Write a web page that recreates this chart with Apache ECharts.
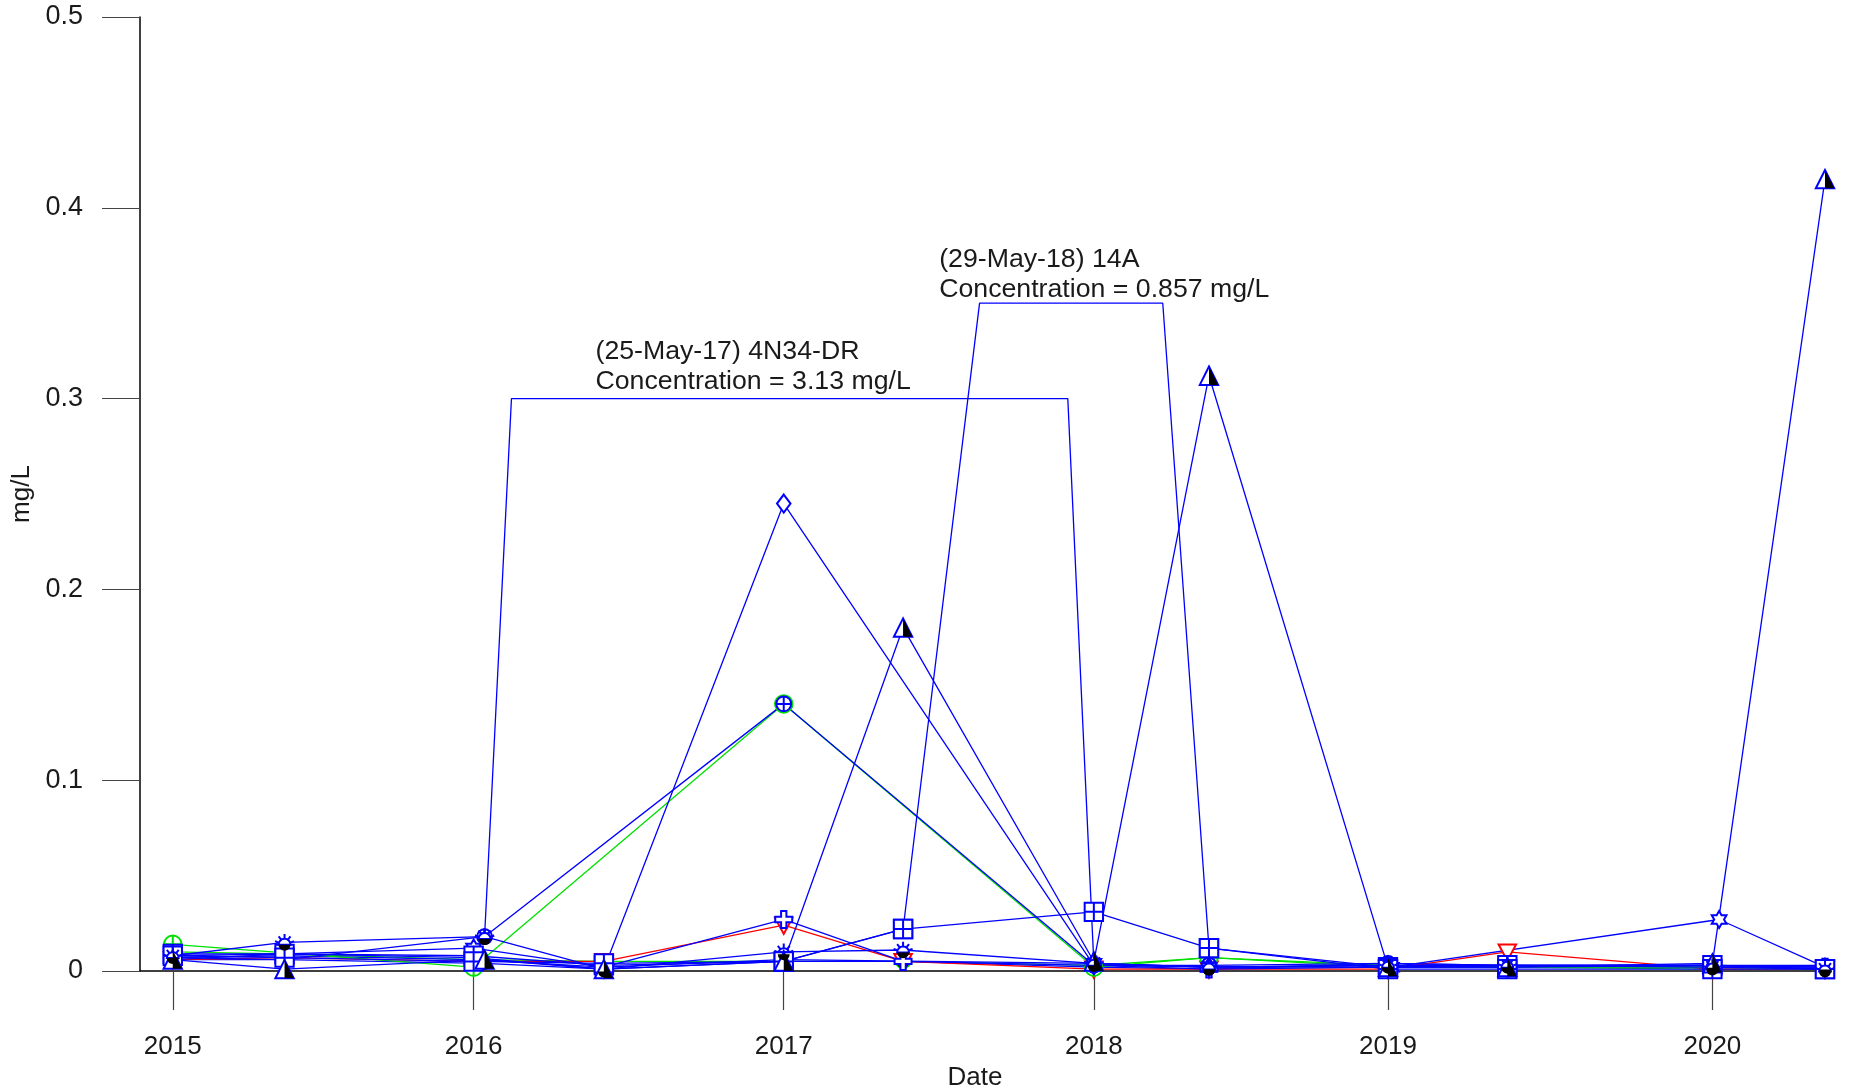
<!DOCTYPE html>
<html>
<head>
<meta charset="utf-8">
<script src="https://cdn.jsdelivr.net/npm/echarts@6/dist/echarts.min.js"></script>
<style>
html,body{margin:0;padding:0;background:#fff;}
#chart{width:1853px;height:1091px;}
</style>
</head>
<body>
<div id="chart"></div>
<script>
// ---------------- DATA ----------------
// sampling events (one value per event, null = not sampled)
const sampleDates = ['2015-05-29','2015-10-09','2016-05-21','2016-06-03','2016-10-23','2017-05-25','2017-10-14',
                     '2018-05-29','2018-10-13','2019-05-14','2019-05-18','2019-10-03','2020-06-03','2020-06-11','2020-10-15'];
// x-axis ticks sit on the spring sampling events, labelled with the year
const tickDates = ['2015-05-29','2016-05-21','2017-05-25','2018-05-29','2019-05-14','2020-06-03'];

// concentrations, mg/L
const w4N34DR  = [0.008,0.015,null,0.018,null,3.13,null,0.004,0.002,0.003,null,0.003,0.002,null,0.001];
const w14A     = [0.008,0.007,0.005,null,0.004,0.005,0.022,0.857,0.012,0.001,null,0.001,0.001,null,0.001];
const wBoxB    = [0.009,0.009,0.008,null,0.003,0.005,0.022,0.031,0.012,0.002,null,0.003,0.003,null,0.001];
const wTri     = [0.006,0.001,null,0.006,0.001,0.005,0.180,0.005,0.312,0.002,null,0.002,0.004,null,0.415];
const wRed     = [0.006,0.007,0.005,null,0.005,0.024,0.005,0.001,0.001,0.001,null,0.010,0.001,null,0.001];
const wCross   = [0.007,0.008,0.006,null,0.002,0.027,0.005,0.003,0.001,0.002,null,0.002,0.002,null,0.002];
const wDiamond = [0.008,0.009,0.007,null,0.001,0.245,null,0.003,0.002,0.003,null,0.002,0.003,null,0.001];
const wCircB   = [0.007,0.006,null,0.018,null,0.140,null,0.003,0.003,0.004,null,0.003,0.003,null,0.002];
const wCircG   = [0.014,null,0.002,null,null,0.140,null,0.002,0.007,0.003,null,0.002,0.002,null,0.001];
const wStar    = [0.006,0.009,0.012,null,0.002,0.006,null,0.004,0.002,null,0.002,null,null,0.027,0.002];
const wSun2    = [null,null,null,0.018,0.001,0.010,0.011,0.004,0.002,0.003,null,0.003,0.003,null,0.002];
const wDot     = [0.006,0.006,null,0.004,0.001,0.005,0.005,0.002,0.001,0.004,null,0.003,0.003,null,0.003];
const wGreen2  = [0.010,0.009,0.006,null,0.005,0.005,0.005,0.003,0.007,0.002,null,0.002,0.001,null,0.001];

// off-scale results shown as call-outs
const calloutWells     = ['4N34-DR','14A'];
const calloutDates     = ['2017-05-25','2018-05-29'];
const calloutDateText  = ['25-May-17','29-May-18'];
const calloutValues    = ['3.13','0.857'];
const calloutLevels    = [0.30, 0.35];
const calloutLegStart  = ['2016-07-05','2018-01-13'];
const calloutLegEnd    = ['2018-04-28','2018-08-19'];
const calloutTextDate  = ['2016-10-13','2017-11-26'];
const calloutTextLevel = [0.301, 0.349];

// ---------------- STYLE ----------------
const FONT = '"Liberation Sans", Arial, sans-serif';
const TXT = '#1a1a1a';
const BLUE = '#0000ff', RED = '#ff0000', GREEN = '#00e000', BLACK = '#000000';
const F = 'M0,0 L0,0 M16,16 L16,16 '; // common 16x16 frame
const P = s => 'path://' + F + s;
const SUN      = P('M3,10 A5,5 0 0 1 13,10 Z M8,1 L8,4.5 M3,3 L5,5.5 M13,3 L11,5.5 M0,7 L2.5,8 M16,7 L13.5,8');
const SUN_HALF = P('M3,10 A5,5 0 0 0 13,10 Z');
const TRI      = P('M8,1 L15,15 L1,15 Z');
const TRI_HALF = P('M8,1 L15,15 L8,15 Z');
const DIAMOND  = P('M8,0 L14,8 L8,16 L2,8 Z');
const BOXPLUS  = P('M1,1 L15,1 L15,15 L1,15 Z M8,1 L8,15 M1,8 L15,8');
const CIRCPLUS = P('M8,1 A7,7 0 1 1 7.99,1 Z M8,1 L8,15 M1,8 L15,8');
const CROSS    = P('M5.5,0 L10.5,0 L10.5,5.5 L16,5.5 L16,10.5 L10.5,10.5 L10.5,16 L5.5,16 L5.5,10.5 L0,10.5 L0,5.5 L5.5,5.5 Z');
const DOWNTRI  = P('M1,2 L15,2 L8,15 Z');
const STAR     = P('M8,0 L10.31,4 L14.93,4 L12.62,8 L14.93,12 L10.31,12 L8,16 L5.69,12 L1.07,12 L3.38,8 L1.07,4 L5.69,4 Z');
const DOT      = P('M8,3 A5,5 0 1 1 7.99,3 Z');

const wells = [
  {name:'wGreen2', vals:wGreen2, line:GREEN, sym:CIRCPLUS, fill:'#fff', stroke:GREEN, size:16},
  {name:'wDot',    vals:wDot,    line:BLUE,  sym:DOT,      fill:BLACK,  stroke:BLACK, size:18},
  {name:'wRed',    vals:wRed,    line:RED,   sym:DOWNTRI,  fill:'#fff', stroke:RED,   size:20},
  {name:'wCross',  vals:wCross,  line:BLUE,  sym:CROSS,    fill:'#fff', stroke:BLUE,  size:17},
  {name:'wCircG',  vals:wCircG,  line:GREEN, sym:CIRCPLUS, fill:'#fff', stroke:GREEN, size:20},
  {name:'wCircB',  vals:wCircB,  line:BLUE,  sym:CIRCPLUS, fill:'#fff', stroke:BLUE,  size:17},
  {name:'wDiamond',vals:wDiamond,line:BLUE,  sym:DIAMOND,  fill:'#fff', stroke:BLUE,  size:18},
  {name:'wSun2',   vals:wSun2,   line:BLUE,  sym:SUN,      fill:'#fff', stroke:BLUE,  size:19, half:SUN_HALF},
  {name:'wStar',   vals:wStar,   line:BLUE,  sym:STAR,     fill:'#fff', stroke:BLUE,  size:17},
  {name:'wBoxB',   vals:wBoxB,   line:BLUE,  sym:BOXPLUS,  fill:'#fff', stroke:BLUE,  size:21},
  {name:'14A',     vals:w14A,    line:BLUE,  sym:BOXPLUS,  fill:'#fff', stroke:BLUE,  size:21},
  {name:'wTri',    vals:wTri,    line:BLUE,  sym:TRI,      fill:'#fff', stroke:BLUE,  size:21, half:TRI_HALF},
  {name:'4N34-DR', vals:w4N34DR, line:BLUE,  sym:SUN,      fill:'#fff', stroke:BLUE,  size:19, half:SUN_HALF}
];

// ---------------- BUILD ----------------
const ts = d => Date.parse(d + 'T00:00:00Z');
const xMin = ts('2015-04-20'), xMax = ts('2020-10-15');

function linePoints(w) {
  const pts = [];
  const ci = calloutWells.indexOf(w.name);
  w.vals.forEach((v, i) => {
    if (v == null) return;
    if (ci >= 0 && sampleDates[i] === calloutDates[ci]) {
      pts.push([ts(calloutLegStart[ci]), calloutLevels[ci]]);
      pts.push([ts(calloutLegEnd[ci]), calloutLevels[ci]]);
    } else {
      pts.push([ts(sampleDates[i]), v]);
    }
  });
  return pts;
}
function markerPoints(w) {
  const pts = [];
  const ci = calloutWells.indexOf(w.name);
  w.vals.forEach((v, i) => {
    if (v == null) return;
    if (ci >= 0 && sampleDates[i] === calloutDates[ci]) return;
    pts.push([ts(sampleDates[i]), v]);
  });
  return pts;
}

const series = [];
wells.forEach(w => {
  series.push({
    type:'line', name:w.name, data:linePoints(w), showSymbol:false, clip:false, z:2,
    lineStyle:{color:w.line, width:1.3}, itemStyle:{color:w.line}, emphasis:{disabled:true}, silent:true
  });
});
wells.forEach(w => {
  series.push({
    type:'scatter', name:w.name + '-m', data:markerPoints(w), symbol:w.sym, symbolSize:w.size, clip:false, z:3,
    itemStyle:{color:w.fill, borderColor:w.stroke, borderWidth:2, opacity:1}, emphasis:{disabled:true}, silent:true
  });
  if (w.half) {
    series.push({
      type:'scatter', name:w.name + '-h', data:markerPoints(w), symbol:w.half, symbolSize:w.size, clip:false, z:4,
      itemStyle:{color:BLACK, borderWidth:0, opacity:1}, emphasis:{disabled:true}, silent:true
    });
  }
});

const chart = echarts.init(document.getElementById('chart'), null, {renderer:'canvas'});
const tickVals = tickDates.map(ts);
chart.setOption({
  animation:false,
  backgroundColor:'#ffffff',
  grid:{left:140, top:17, width:1685, height:954, containLabel:false, outerBoundsMode:'none'},
  xAxis:{
    type:'value', min:xMin, max:xMax,
    name:'Date', nameLocation:'middle', nameGap:93,
    nameTextStyle:{fontFamily:FONT, fontSize:26, color:TXT, padding:[0, 15, 0, 0]},
    axisLine:{show:true, onZero:false, lineStyle:{color:'#000', width:1.5}},
    axisTick:{show:true, length:39, customValues:tickVals, lineStyle:{color:'#444', width:1.2}},
    axisLabel:{show:true, customValues:tickVals, margin:63, fontFamily:FONT, fontSize:26, color:TXT,
      formatter:v => String(new Date(v).getUTCFullYear())},
    splitLine:{show:false}
  },
  yAxis:{
    type:'value', min:0, max:0.5, interval:0.1,
    name:'mg/L', nameLocation:'middle', nameGap:95, nameRotate:90,
    nameTextStyle:{fontFamily:FONT, fontSize:26, color:TXT},
    axisLine:{show:true, lineStyle:{color:'#000', width:1.5}},
    axisTick:{show:true, length:38, lineStyle:{color:'#444', width:1.2}},
    axisLabel:{margin:57, fontFamily:FONT, fontSize:27, color:TXT},
    splitLine:{show:false}
  },
  series:series
});

// call-out text placed in data coordinates
const graphics = calloutWells.map((w, i) => {
  const p = chart.convertToPixel({gridIndex:0}, [ts(calloutTextDate[i]), calloutTextLevel[i]]);
  return {
    type:'text', x:p[0], y:p[1], silent:true, z:10,
    style:{text:'(' + calloutDateText[i] + ') ' + w + '\nConcentration = ' + calloutValues[i] + ' mg/L',
      fontFamily:FONT, fontSize:26.7, fill:TXT, align:'left', verticalAlign:'bottom', lineHeight:30}
  };
});
chart.setOption({graphic:graphics});
</script>
</body>
</html>
